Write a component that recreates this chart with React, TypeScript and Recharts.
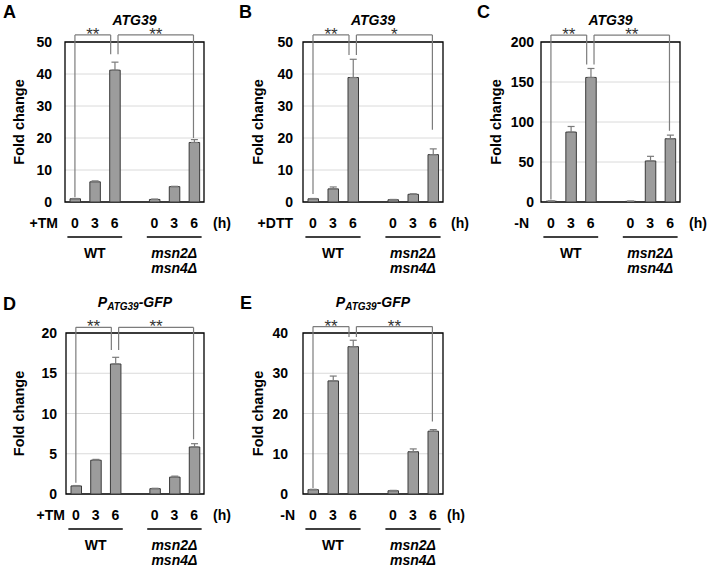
import React from 'react';
import {
  BarChart,
  Bar,
  XAxis,
  YAxis,
  CartesianGrid,
  ErrorBar,
  ReferenceLine,
  ReferenceArea,
} from 'recharts';

// ---------------- data ----------------
const categories = ['WT 0 h', 'WT 3 h', 'WT 6 h', 'gap', 'msn 0 h', 'msn 3 h', 'msn 6 h'];
const timeLabels = ['0', '3', '6', '', '0', '3', '6'];
const groupNames = [['WT'], ['msn2Δ', 'msn4Δ']];
const groupMiddleIndex = [1, 5];

const aValues = [1.0, 6.3, 41.2, null, 0.8, 4.8, 18.6];
const aErrors = [0.1, 0.3, 2.5, null, 0.1, 0.1, 0.9];
const aTicks = [0, 10, 20, 30, 40, 50];
const aBrackets = [
  { from: 0, to: 2, fromEnd: 1.5, toEnd: 46.2, top: 52.2, label: '**' },
  { from: 2, to: 6, fromEnd: 46.2, toEnd: 20.0, top: 52.2, label: '**' },
];

const bValues = [1.0, 4.1, 38.9, null, 0.7, 2.4, 14.8];
const bErrors = [0.1, 0.6, 5.7, null, 0.1, 0.15, 1.8];
const bTicks = [0, 10, 20, 30, 40, 50];
const bBrackets = [
  { from: 0, to: 2, fromEnd: 2.5, toEnd: 45.9, top: 52.2, label: '**' },
  { from: 2, to: 6, fromEnd: 45.9, toEnd: 22.6, top: 52.2, label: '*' },
];

const cValues = [1.0, 87.4, 155.7, null, 0.8, 51.3, 79.1];
const cErrors = [0.3, 7.0, 11.2, null, 0.3, 5.8, 4.5];
const cTicks = [0, 50, 100, 150, 200];
const cBrackets = [
  { from: 0, to: 2, fromEnd: 3, toEnd: 172, top: 208.7, label: '**' },
  { from: 2, to: 6, fromEnd: 172, toEnd: 89, top: 208.7, label: '**' },
];

const dValues = [1.0, 4.2, 16.15, null, 0.66, 2.1, 5.84];
const dErrors = [0.05, 0.1, 0.83, null, 0.05, 0.12, 0.41];
const dTicks = [0, 5, 10, 15, 20];
const dBrackets = [
  { from: 0, to: 2, fromEnd: 1.4, toEnd: 17.9, top: 20.7, label: '**' },
  { from: 2, to: 6, fromEnd: 17.9, toEnd: 6.8, top: 20.7, label: '**' },
];

const eValues = [1.07, 28.1, 36.6, null, 0.8, 10.5, 15.6];
const eErrors = [0.1, 1.2, 1.6, null, 0.1, 0.7, 0.4];
const eTicks = [0, 10, 20, 30, 40];
const eBrackets = [
  { from: 0, to: 2, fromEnd: 1.5, toEnd: 39.0, top: 41.6, label: '**' },
  { from: 2, to: 6, fromEnd: 39.0, toEnd: 18.0, top: 41.6, label: '**' },
];

// ---------------- styles ----------------
const FONT = '"Liberation Sans", Arial, Helvetica, sans-serif';
const BAR_FILL = '#9c9c9c';
const BAR_STROKE = '#3a3a3a';
const BRACKET = '#7c7c7c';

type Bracket = { from: number; to: number; fromEnd: number; toEnd: number; top: number; label: string };

type PanelSpec = {
  letter: string;
  gfp: boolean;
  treatment: string;
  values: (number | null)[];
  errors: (number | null)[];
  ticks: number[];
  brackets: Bracket[];
  left: number;
  top: number;
  width: number;
  height: number;
  marginTop: number;
  marginBottom: number;
  yWidth: number;
  marginRight: number;
  tickGap: number;
  yLabelX: number;
  treatGap: number;
  hGap: number;
  letterX: number;
  letterY: number;
  titleY: number;
};

const panels: PanelSpec[] = [
  { letter: 'A', gfp: false, treatment: '+TM', values: aValues, errors: aErrors, ticks: aTicks, brackets: aBrackets,
    left: 0, top: 0, width: 240, height: 285, marginTop: 42, marginBottom: 13, yWidth: 65, marginRight: 36,
    tickGap: 13, yLabelX: 19, treatGap: 7, hGap: 9, letterX: 3, letterY: 18, titleY: 25 },
  { letter: 'B', gfp: false, treatment: '+DTT', values: bValues, errors: bErrors, ticks: bTicks, brackets: bBrackets,
    left: 230, top: 0, width: 245, height: 285, marginTop: 42, marginBottom: 13, yWidth: 73, marginRight: 32,
    tickGap: 10, yLabelX: 28, treatGap: 10, hGap: 8, letterX: 239, letterY: 18, titleY: 25 },
  { letter: 'C', gfp: false, treatment: '-N', values: cValues, errors: cErrors, ticks: cTicks, brackets: cBrackets,
    left: 460, top: 0, width: 248, height: 285, marginTop: 42, marginBottom: 13, yWidth: 81, marginRight: 28,
    tickGap: 7, yLabelX: 36, treatGap: 12, hGap: 9, letterX: 477, letterY: 18, titleY: 25 },
  { letter: 'D', gfp: true, treatment: '+TM', values: dValues, errors: dErrors, ticks: dTicks, brackets: dBrackets,
    left: 0, top: 280, width: 240, height: 288, marginTop: 53, marginBottom: 4, yWidth: 66, marginRight: 36,
    tickGap: 9, yLabelX: 19, treatGap: 1, hGap: 9, letterX: 3, letterY: 310, titleY: 307 },
  { letter: 'E', gfp: true, treatment: '-N', values: eValues, errors: eErrors, ticks: eTicks, brackets: eBrackets,
    left: 230, top: 280, width: 245, height: 288, marginTop: 53, marginBottom: 4, yWidth: 73, marginRight: 32,
    tickGap: 15, yLabelX: 28, treatGap: 8, hGap: 4, letterX: 240, letterY: 309, titleY: 307 },
];

// ---------------- components ----------------
const CatTick = (props: any) => {
  const { x, y, payload, band } = props;
  const idx = categories.indexOf(payload.value);
  const gi = groupMiddleIndex.indexOf(idx);
  const half = band * 1.38;
  return (
    <g>
      <text x={x} y={y + 26} textAnchor="middle" fontSize={14} fontWeight="bold" fill="#000" fontFamily={FONT}>
        {timeLabels[idx]}
      </text>
      {gi >= 0 && (
        <g>
          <line x1={x - half} x2={x + half} y1={y + 35} y2={y + 35} stroke="#000" strokeWidth={1.6} />
          {groupNames[gi].map((t, i) => (
            <text
              key={t}
              x={x}
              y={y + 56 + i * 15}
              textAnchor="middle"
              fontSize={14}
              fontWeight="bold"
              fontStyle={gi === 1 ? 'italic' : 'normal'}
              fill="#000"
              fontFamily={FONT}
            >
              {t}
            </text>
          ))}
        </g>
      )}
    </g>
  );
};

const YTick = (props: any) => {
  const { x, y, payload } = props;
  return (
    <text x={x} y={y + 5} textAnchor="end" fontSize={14} fontWeight="bold" fill="#000" fontFamily={FONT}>
      {payload.value}
    </text>
  );
};

const FoldLabel = (props: any) => {
  const { viewBox, dx } = props;
  if (!viewBox) return null;
  const cx = viewBox.x + dx;
  const cy = viewBox.y + viewBox.height / 2;
  return (
    <text
      x={cx}
      y={cy}
      transform={`rotate(-90, ${cx}, ${cy})`}
      textAnchor="middle"
      dominantBaseline="central"
      fontSize={14.5}
      fontWeight="bold"
      fill="#000"
      fontFamily={FONT}
    >
      Fold change
    </text>
  );
};

const SideLabels = (props: any) => {
  const { viewBox, left, lgap, rgap } = props;
  if (!viewBox) return null;
  const y = viewBox.y + 26;
  return (
    <g>
      <text x={viewBox.x - lgap} y={y} textAnchor="end" fontSize={14} fontWeight="bold" fill="#000" fontFamily={FONT}>
        {left}
      </text>
      <text x={viewBox.x + viewBox.width + rgap} y={y} textAnchor="start" fontSize={14} fontWeight="bold" fill="#000" fontFamily={FONT}>
        (h)
      </text>
    </g>
  );
};

// A bracket piece drawn through the chart's scales, nudged sideways by a fraction of a band.
const BracketLine = (props: any) => {
  const { x1, y1, x2, y2, dx1, dx2, label } = props;
  if ([x1, y1, x2, y2].some((v) => typeof v !== 'number' || isNaN(v))) return null;
  const ax = x1 + dx1;
  const bx = x2 + dx2;
  return (
    <g>
      <line x1={ax} y1={y1} x2={bx} y2={y2} stroke={BRACKET} strokeWidth={1.2} />
      {label && (
        <text x={(ax + bx) / 2} y={y1 + 5} textAnchor="middle" fontSize={17} fill="#333" fontFamily={FONT}>
          {label}
        </text>
      )}
    </g>
  );
};

function Panel({ spec }: { spec: PanelSpec }) {
  const data = categories.map((c, i) => ({
    cat: c,
    value: spec.values[i],
    err: spec.errors[i] == null ? null : [0, spec.errors[i] as number],
  }));
  const yMax = spec.ticks[spec.ticks.length - 1];
  const plotWidth = spec.width - spec.yWidth - spec.marginRight;
  const band = plotWidth / categories.length;

  const bracketEls: React.ReactNode[] = [];
  spec.brackets.forEach((b, bi) => {
    const cL = categories[b.from];
    const cR = categories[b.to];
    const dL = b.from === 2 ? band * 0.17 : 0;
    const dR = b.to === 2 ? -band * 0.2 : -band * 0.03;
    const common = { stroke: BRACKET, strokeWidth: 1.2, ifOverflow: 'visible' as const };
    bracketEls.push(
      <ReferenceLine
        key={`l${bi}`}
        {...common}
        segment={[{ x: cL, y: b.fromEnd }, { x: cL, y: b.top }]}
        shape={(p: any) => <BracketLine {...p} dx1={dL} dx2={dL} />}
      />,
      <ReferenceLine
        key={`t${bi}`}
        {...common}
        segment={[{ x: cL, y: b.top }, { x: cR, y: b.top }]}
        shape={(p: any) => <BracketLine {...p} dx1={dL} dx2={dR} label={b.label} />}
      />,
      <ReferenceLine
        key={`r${bi}`}
        {...common}
        segment={[{ x: cR, y: b.top }, { x: cR, y: b.toEnd }]}
        shape={(p: any) => <BracketLine {...p} dx1={dR} dx2={dR} />}
      />
    );
  });

  return (
    <div style={{ position: 'absolute', left: spec.left, top: spec.top }}>
      <BarChart
        width={spec.width}
        height={spec.height}
        data={data}
        margin={{ top: spec.marginTop, right: spec.marginRight, bottom: spec.marginBottom, left: 0 }}
        barCategoryGap={0}
      >
        <CartesianGrid vertical={false} stroke="#dadada" strokeWidth={1} />
        <XAxis
          dataKey="cat"
          interval={0}
          height={70}
          axisLine={false}
          tickLine={false}
          tickSize={0}
          tickMargin={0}
          tick={(p: any) => <CatTick {...p} band={band} />}
          label={<SideLabels left={spec.treatment} lgap={spec.treatGap} rgap={spec.hGap} />}
        />
        <YAxis
          width={spec.yWidth}
          domain={[0, yMax]}
          ticks={spec.ticks}
          interval={0}
          axisLine={false}
          tickLine={false}
          tickSize={0}
          tickMargin={spec.tickGap}
          allowDataOverflow
          tick={(p: any) => <YTick {...p} />}
          label={<FoldLabel dx={spec.yLabelX} />}
        />
        <Bar dataKey="value" barSize={10.5} fill={BAR_FILL} stroke={BAR_STROKE} strokeWidth={1} isAnimationActive={false}>
          <ErrorBar dataKey="err" width={3.5} stroke="#7a7a7a" strokeWidth={1.2} direction="y" />
        </Bar>
        <ReferenceArea
          x1={categories[0]}
          x2={categories[categories.length - 1]}
          y1={0}
          y2={yMax}
          fill="none"
          fillOpacity={0}
          stroke="#000"
          strokeWidth={1.3}
          ifOverflow="visible"
        />
        {bracketEls}
      </BarChart>
    </div>
  );
}

function Titles() {
  return (
    <svg
      width={708}
      height={568}
      style={{ position: 'absolute', left: 0, top: 0, pointerEvents: 'none' }}
      fontFamily={FONT}
    >
      {panels.map((p) => {
        const plotCenter = p.left + p.yWidth + (p.width - p.yWidth - p.marginRight) / 2;
        return (
          <g key={p.letter}>
            <text x={p.letterX} y={p.letterY} fontSize={18} fontWeight="bold" fill="#000">
              {p.letter}
            </text>
            {p.gfp ? (
              <text x={plotCenter} y={p.titleY} textAnchor="middle" fontSize={14} fontWeight="bold" fontStyle="italic" fill="#000">
                P
                <tspan fontSize={10} dy={3}>ATG39</tspan>
                <tspan dy={-3}>-GFP</tspan>
              </text>
            ) : (
              <text x={plotCenter} y={p.titleY} textAnchor="middle" fontSize={14} fontWeight="bold" fontStyle="italic" fill="#000">
                ATG39
              </text>
            )}
          </g>
        );
      })}
    </svg>
  );
}

export default function App() {
  return (
    <div style={{ position: 'absolute', left: 0, top: 0, width: 708, height: 568, background: '#fff', fontFamily: FONT }}>
      {panels.map((p) => (
        <Panel key={p.letter} spec={p} />
      ))}
      <Titles />
    </div>
  );
}
